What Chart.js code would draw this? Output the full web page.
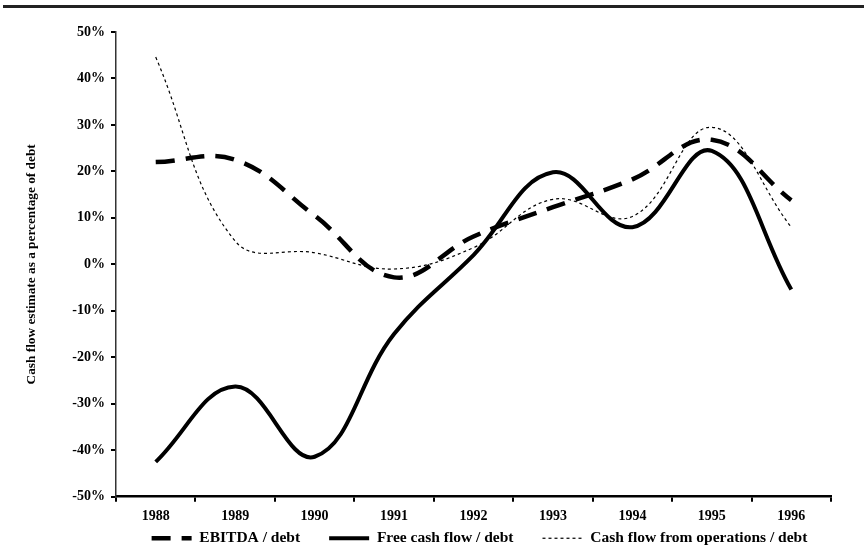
<!DOCTYPE html>
<html>
<head>
<meta charset="utf-8">
<script src="https://cdn.jsdelivr.net/npm/chart.js@4.4.1/dist/chart.umd.min.js"></script>
<style>
  body { margin: 0; background: #fff; }
  #wrap { position: relative; width: 864px; height: 557px; }
  #rule { position: absolute; left: 3px; top: 5px; width: 861px; height: 3px; background: #222; }
  #myChart { position: absolute; left: 0; top: 0; }
</style>
</head>
<body>
<div id="wrap">
  <div id="rule"></div>
  <canvas id="myChart" width="864" height="557"></canvas>
</div>
<script>
var years = ['1988', '1989', '1990', '1991', '1992', '1993', '1994', '1995', '1996'];
var ebitdaDebt = [22, 22.5, 10.5, -2.8, 6, 12.3, 18.3, 26.8, 13.8];
var freeCashFlowDebt = [-42.5, -26.3, -41.4, -15, 2, 19.8, 8, 24.4, -5.4];
var opsCashFlowDebt = [44.6, 5, 2.5, -1, 3.6, 14, 10.3, 29.5, 8];
var yTicks = [-50, -40, -30, -20, -10, 0, 10, 20, 30, 40, 50];

var serif = '"Liberation Serif", "Times New Roman", serif';

// legend sits tight under the axis labels, like the original
var legendShift = {
  id: 'legendShift',
  beforeInit: function (chart) {
    var lg = chart.legend;
    var fit = lg.fit;
    lg.fit = function () {
      fit.call(this);
      this.height -= 28;
    };
  },
  afterLayout: function (chart) {
    var lg = chart.legend;
    lg.left += 56;
    lg.right += 56;
    lg.top -= 29;
    lg.bottom = chart.height;
  }
};

function legendLabels(chart) {
  var items = Chart.defaults.plugins.legend.labels.generateLabels(chart);
  items.forEach(function (it) {
    var ds = chart.data.datasets[it.datasetIndex];
    it.lineDash = ds.borderDash || [];
    it.lineWidth = ds.borderWidth;
  });
  return items;
}

function buildChart() {
  var ctx = document.getElementById('myChart');
  var myChart = new Chart(ctx, {
    type: 'line',
    data: {
      labels: years,
      datasets: [{
        label: 'EBITDA / debt',
        data: ebitdaDebt,
        borderColor: '#000',
        backgroundColor: '#000',
        borderWidth: 4.5,
        borderDash: [19, 11],
        tension: 0.4,
        pointRadius: 0,
        fill: false
      }, {
        label: 'Free cash flow / debt',
        data: freeCashFlowDebt,
        borderColor: '#000',
        backgroundColor: '#000',
        borderWidth: 4,
        tension: 0.4,
        pointRadius: 0,
        fill: false
      }, {
        label: 'Cash flow from operations / debt',
        data: opsCashFlowDebt,
        borderColor: '#000',
        backgroundColor: '#000',
        borderWidth: 1.2,
        borderDash: [3, 3],
        tension: 0.4,
        pointRadius: 0,
        fill: false
      }]
    },
    options: {
      responsive: false,
      animation: false,
      layout: { padding: { left: 16, right: 33, top: 32, bottom: 0 } },
      plugins: {
        legend: {
          position: 'bottom',
          labels: {
            usePointStyle: true,
            pointStyle: 'line',
            pointStyleWidth: 40,
            padding: 29,
            color: '#000',
            generateLabels: legendLabels,
            font: { family: serif, size: 15.5, weight: 'bold' }
          }
        },
        tooltip: { enabled: false }
      },
      scales: {
        x: {
          offset: true,
          grid: { offset: true, drawOnChartArea: false, tickLength: 5, color: '#000', lineWidth: 2 },
          border: { color: '#000', width: 2.5 },
          ticks: { color: '#000', padding: 6, maxRotation: 0, font: { family: serif, size: 14, weight: 'bold' } }
        },
        y: {
          min: -50,
          max: 50,
          afterFit: function (scale) { scale.width = 100; },
          afterBuildTicks: function (scale) {
            scale.ticks = yTicks.map(function (v) { return { value: v }; });
          },
          grid: { drawOnChartArea: false, tickLength: 5, color: '#000', lineWidth: 2 },
          border: { color: '#333', width: 1.5 },
          ticks: {
            color: '#000',
            padding: 6,
            font: { family: serif, size: 14, weight: 'bold' },
            callback: function (v) { return v + '%'; }
          },
          title: {
            display: true,
            text: 'Cash flow estimate as a percentage of debt',
            color: '#000',
            padding: { top: 8, bottom: 0 },
            font: { family: serif, size: 13.3, weight: 'bold' }
          }
        }
      }
    },
    plugins: [legendShift]
  });
}

buildChart();
</script>
</body>
</html>
